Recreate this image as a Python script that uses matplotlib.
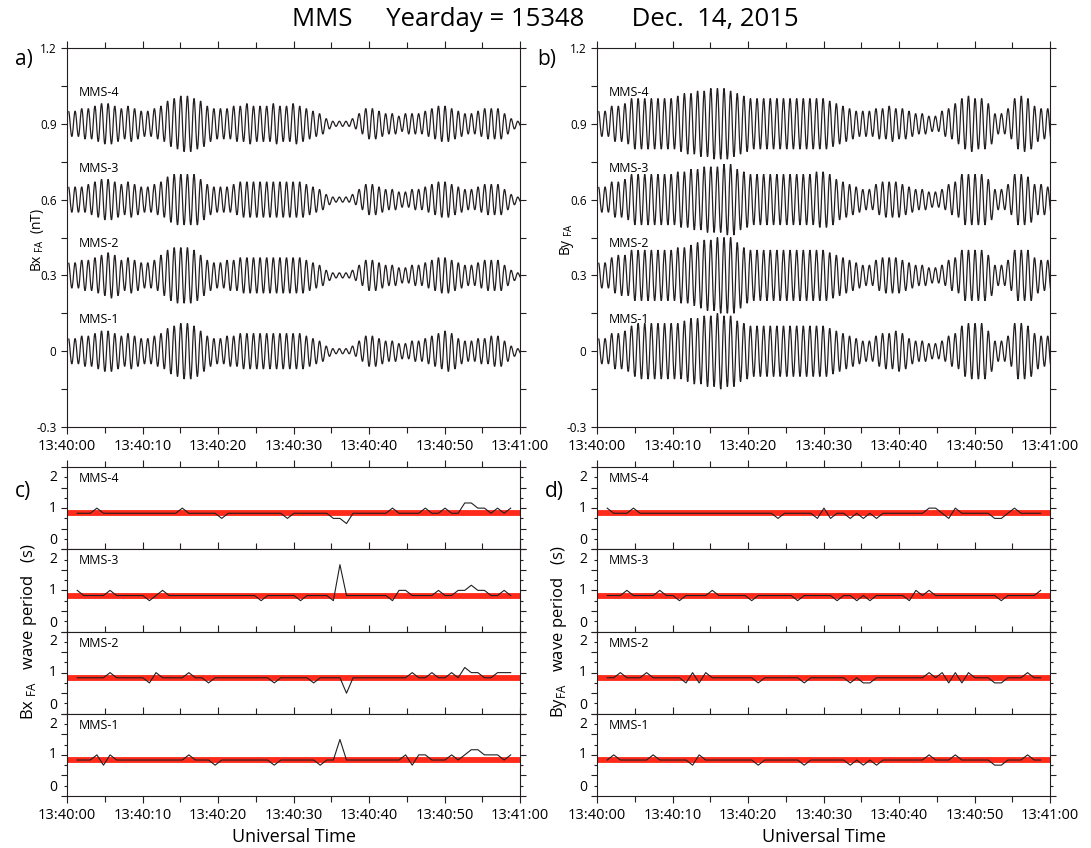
import numpy as np
import matplotlib.pyplot as plt
from matplotlib.ticker import MultipleLocator
from matplotlib.path import Path
from matplotlib.patches import PathPatch

plt.rcParams['font.family'] = ['Open Sans', 'DejaVu Sans']
plt.rcParams['mathtext.fontset'] = 'custom'
plt.rcParams['mathtext.rm'] = 'Open Sans'

probes = ['MMS-1', 'MMS-2', 'MMS-3', 'MMS-4']
offsets = [0.0, 0.3, 0.6, 0.9]
time_ticks = [0, 10, 20, 30, 40, 50, 60]
time_labels = ['13:40:00', '13:40:10', '13:40:20', '13:40:30',
               '13:40:40', '13:40:50', '13:41:00']

# wave amplitude of each cycle (0.01 nT), peak then trough every half period
first_extremum = 0.2
half_period = 0.4375

bx_amp_mms1 = [5, 5, 6, 6, 7, 8, 8, 7, 6, 7, 6, 5, 5, 6, 7, 9, 10, 11, 11, 10, 8, 6, 5,
               5, 6, 6, 7, 7, 7, 7, 7, 7, 7, 7, 7, 7, 6, 5, 4, 2, 1, 1, 1, 2, 4, 6,
               6, 5, 4, 4, 3, 3, 4, 4, 5, 6, 7, 8, 7, 5, 4, 4, 5, 5, 6, 6, 4, 2, 1]
bx_amp_mms2 = [5, 5, 6, 6, 7, 8, 9, 8, 6, 7, 6, 5, 5, 6, 8, 10, 11, 11, 11, 10, 8, 6, 5,
               5, 6, 6, 7, 7, 7, 7, 7, 7, 7, 7, 7, 7, 6, 5, 4, 2, 1, 1, 1, 2, 4, 6,
               6, 5, 4, 4, 3, 3, 4, 4, 5, 6, 7, 7, 6, 5, 4, 4, 5, 6, 6, 6, 4, 2, 1]
bx_amp_mms3 = [5, 5, 5, 6, 7, 8, 8, 7, 6, 7, 6, 5, 5, 6, 7, 9, 10, 10, 10, 10, 8, 6, 5,
               5, 5, 6, 7, 7, 7, 7, 7, 7, 7, 7, 7, 7, 6, 5, 4, 2, 1, 1, 1, 2, 4, 6,
               6, 5, 4, 4, 3, 3, 4, 4, 5, 6, 7, 7, 6, 5, 4, 4, 5, 6, 6, 6, 4, 2, 1]
bx_amp_mms4 = [5, 5, 6, 6, 7, 8, 8, 7, 6, 7, 6, 5, 5, 6, 7, 9, 10, 11, 11, 10, 9, 7, 6,
               6, 6, 7, 7, 8, 7, 7, 7, 8, 7, 7, 8, 7, 6, 5, 4, 2, 1, 1, 1, 2, 4, 6,
               6, 5, 4, 4, 3, 4, 4, 4, 5, 6, 7, 7, 6, 5, 4, 4, 5, 6, 6, 6, 4, 2, 1]

by_amp_mms1 = [5, 5, 7, 7, 8, 10, 11, 11, 11, 11, 11, 11, 11, 12, 13, 13, 14, 14, 15, 14, 14, 12, 11,
               10, 10, 10, 10, 10, 10, 10, 10, 10, 10, 10, 10, 9, 8, 7, 6, 5, 4, 4, 6, 7, 7, 8,
               7, 5, 4, 4, 3, 3, 4, 6, 7, 10, 11, 11, 11, 8, 4, 4, 6, 11, 11, 10, 7, 6, 6]
by_amp_mms2 = [5, 5, 7, 8, 8, 10, 10, 10, 10, 10, 10, 10, 11, 11, 12, 13, 14, 14, 15, 15, 15, 13, 11,
               10, 10, 10, 10, 10, 10, 10, 10, 10, 10, 10, 10, 9, 8, 7, 6, 5, 4, 4, 6, 7, 7, 7,
               6, 5, 4, 4, 3, 3, 4, 6, 7, 10, 10, 10, 10, 8, 4, 4, 6, 10, 10, 10, 7, 6, 6]
by_amp_mms3 = [5, 5, 7, 7, 8, 10, 10, 10, 10, 10, 10, 10, 11, 11, 12, 12, 13, 13, 13, 14, 14, 12, 11,
               10, 10, 10, 10, 10, 10, 10, 10, 10, 10, 11, 11, 10, 8, 7, 6, 5, 4, 4, 6, 7, 7, 7,
               6, 5, 4, 4, 3, 3, 4, 6, 7, 10, 10, 10, 10, 8, 4, 4, 6, 10, 10, 9, 6, 6, 5]
by_amp_mms4 = [5, 5, 7, 7, 8, 10, 10, 10, 10, 10, 10, 10, 11, 12, 12, 13, 13, 14, 14, 14, 13, 12, 11,
               10, 10, 10, 10, 10, 10, 10, 10, 10, 10, 10, 10, 9, 8, 7, 6, 5, 5, 5, 6, 6, 7, 6,
               6, 5, 4, 4, 3, 3, 5, 6, 8, 10, 11, 10, 10, 8, 4, 4, 6, 10, 11, 10, 7, 6, 6]

# wave period estimates: one node per cycle, baseline 7/8 s,
# listed nodes deviate from it: (node index, period in 1/8 s)
node_start = 1.35
node_step = 0.87
n_nodes = 67
mean_period = 0.875

bx_per_mms1 = [(3, 8), (4, 6), (5, 8), (17, 8), (21, 6), (30, 6), (37, 6), (40, 11), (50, 8),
               (51, 6), (52, 8), (53, 8), (57, 8), (59, 8), (60, 9), (61, 9), (62, 8), (63, 8),
               (64, 8), (66, 8)]
bx_per_mms2 = [(5, 8), (11, 6), (12, 8), (17, 8), (20, 6), (30, 6), (36, 6), (41, 4), (51, 8),
               (54, 8), (57, 8), (59, 9), (60, 8), (61, 8), (64, 8), (65, 8), (66, 8)]
bx_per_mms3 = [(0, 8), (5, 8), (11, 6), (13, 8), (28, 6), (34, 6), (39, 6), (40, 13), (48, 6),
               (49, 8), (50, 8), (55, 8), (58, 8), (59, 8), (60, 9), (61, 8), (62, 8), (65, 8)]
bx_per_mms4 = [(3, 8), (16, 8), (22, 6), (32, 6), (39, 6), (40, 6), (41, 5), (48, 8), (53, 8),
               (56, 8), (59, 9), (60, 9), (61, 8), (62, 8), (64, 8), (66, 8)]

by_per_mms1 = [(1, 8), (7, 8), (13, 6), (14, 8), (23, 6), (30, 6), (37, 6), (39, 6), (41, 6),
               (49, 8), (53, 8), (59, 6), (60, 6), (64, 8)]
by_per_mms2 = [(2, 8), (6, 8), (12, 6), (13, 8), (14, 6), (15, 8), (23, 6), (30, 6), (37, 6),
               (39, 6), (40, 6), (49, 8), (51, 8), (52, 6), (53, 8), (54, 6), (55, 8), (59, 6),
               (60, 6), (64, 8)]
by_per_mms3 = [(3, 8), (8, 8), (11, 6), (16, 8), (22, 6), (29, 6), (35, 6), (38, 6), (40, 6),
               (46, 6), (47, 8), (49, 8), (60, 6), (66, 8)]
by_per_mms4 = [(0, 8), (4, 8), (26, 6), (32, 6), (33, 8), (34, 6), (37, 6), (39, 6), (41, 6),
               (49, 8), (50, 8), (52, 6), (53, 8), (59, 6), (60, 6), (62, 8)]

bx_amps = [bx_amp_mms1, bx_amp_mms2, bx_amp_mms3, bx_amp_mms4]
by_amps = [by_amp_mms1, by_amp_mms2, by_amp_mms3, by_amp_mms4]
bx_pers = [bx_per_mms1, bx_per_mms2, bx_per_mms3, bx_per_mms4]
by_pers = [by_per_mms1, by_per_mms2, by_per_mms3, by_per_mms4]

ink = '#231f20'
W, H = 1091, 848
fig = plt.figure(figsize=(W / 100, H / 100), dpi=100)


def box(x0, y0, x1, y1):
    return [x0 / W, 1 - y1 / H, (x1 - x0) / W, (y1 - y0) / H]


def time_axis(ax, labels):
    ax.set_xlim(0, 60)
    ax.set_xticks(time_ticks)
    ax.xaxis.set_minor_locator(MultipleLocator(5))
    ax.tick_params(axis='x', which='both', top=True, bottom=True, direction='out',
                   color=ink, width=0.8)
    ax.tick_params(axis='x', which='major', length=5)
    ax.tick_params(axis='x', which='minor', length=4)
    if labels:
        ax.set_xticklabels(time_labels, fontsize=10.5)
    else:
        ax.set_xticklabels([])
    for s in ax.spines.values():
        s.set_linewidth(0.8)
        s.set_color(ink)


def smooth_path(t, y):
    # cubic segments with flat tangents at each extremum (half-cosine shape)
    verts = [(t[0], y[0])]
    codes = [Path.MOVETO]
    for i in range(1, len(t)):
        d = (t[i] - t[i - 1]) * 0.3634
        verts += [(t[i - 1] + d, y[i - 1]), (t[i] - d, y[i]), (t[i], y[i])]
        codes += [Path.CURVE4] * 3
    return Path(verts, codes)


def wave_panel(ax, amps):
    for name, off, amp in zip(probes, offsets, amps):
        a = np.repeat(np.array(amp) / 100.0, 2)
        sign = np.tile([1.0, -1.0], len(amp))
        t = first_extremum + half_period * np.arange(len(a))
        ax.add_patch(PathPatch(smooth_path(t, off + sign * a), fill=False,
                               edgecolor=ink, lw=0.9))
        ax.text(0.027, off + 0.125, name, transform=ax.get_yaxis_transform(),
                fontsize=9, va='center', ha='left')
    ax.set_ylim(-0.3, 1.2)
    ax.set_yticks([-0.3, 0, 0.3, 0.6, 0.9, 1.2])
    ax.set_yticklabels(['-0.3', '0', '0.3', '0.6', '0.9', '1.2'], fontsize=8.5)
    ax.yaxis.set_minor_locator(MultipleLocator(0.15))
    ax.tick_params(axis='y', which='both', left=True, right=True, direction='out',
                   length=4, color=ink, width=0.8)
    time_axis(ax, True)


def period_panel(x0, x1, pers, ylabel):
    top, bottom = 467, 796
    h = (bottom - top) / 4
    t = node_start + node_step * np.arange(n_nodes)
    axes = []
    for i in range(4):
        j = 3 - i
        ax = fig.add_axes(box(x0, top + i * h, x1, top + (i + 1) * h))
        vals = np.full(n_nodes, 7.0)
        for k, v in pers[j]:
            vals[k] = v
        ax.axhline(mean_period, color='#ff2a1a', lw=4.2, zorder=1)
        ax.plot(t, vals / 8.0, color=ink, lw=0.8, zorder=2)
        ax.set_ylim(0, 2)
        ax.set_yticks([0, 0.5, 1, 1.5, 2])
        ax.set_yticklabels([])
        ax.yaxis.set_minor_locator(MultipleLocator(0.25))
        ax.tick_params(axis='y', which='both', left=True, right=True, direction='out',
                       color=ink, width=0.8)
        ax.tick_params(axis='y', which='major', length=4)
        ax.tick_params(axis='y', which='minor', length=2)
        tr = ax.get_yaxis_transform()
        ax.text(-0.022, 0.02, '0', transform=tr, fontsize=10, ha='right', va='bottom')
        ax.text(-0.022, 1, '1', transform=tr, fontsize=10, ha='right', va='center')
        ax.text(-0.022, 1.93, '2', transform=tr, fontsize=10, ha='right', va='top')
        ax.text(0.027, 1.72, probes[j], transform=tr, fontsize=9, ha='left', va='center')
        time_axis(ax, i == 3)
        axes.append(ax)
    axes[-1].set_xlabel('Universal Time', fontsize=13, labelpad=4)
    fig.text((x0 - 38) / W, 1 - (top + bottom) / 2 / H, ylabel, rotation=90,
             fontsize=12, ha='center', va='center')
    return axes


ax_a = fig.add_axes(box(67, 48, 520, 427))
wave_panel(ax_a, bx_amps)
ax_b = fig.add_axes(box(597, 48, 1050, 427))
wave_panel(ax_b, by_amps)
fig.text(37 / W, 1 - 240 / H, 'Bx$_{\\ \\rm FA}$  (nT)', rotation=90, fontsize=10,
         ha='center', va='center')
fig.text(567 / W, 1 - 240 / H, 'By$_{\\ \\rm FA}$', rotation=90, fontsize=10,
         ha='center', va='center')

period_panel(67, 520, bx_pers, 'Bx$_{\\ \\rm FA}$   wave period   (s)')
period_panel(597, 1050, by_pers, 'By$_{\\rm FA}$   wave period   (s)')

fig.text(0.5, 1 - 20 / H, 'MMS     Yearday = 15348       Dec.  14, 2015',
         fontsize=18.5, ha='center', va='center')
panel_tags = [('a)', 15, 59), ('b)', 537, 59), ('c)', 15, 491), ('d)', 545, 491)]
for lab, x, y in panel_tags:
    fig.text(x / W, 1 - y / H, lab, fontsize=15, ha='left', va='center')

fig.savefig('out.png', dpi=100)
